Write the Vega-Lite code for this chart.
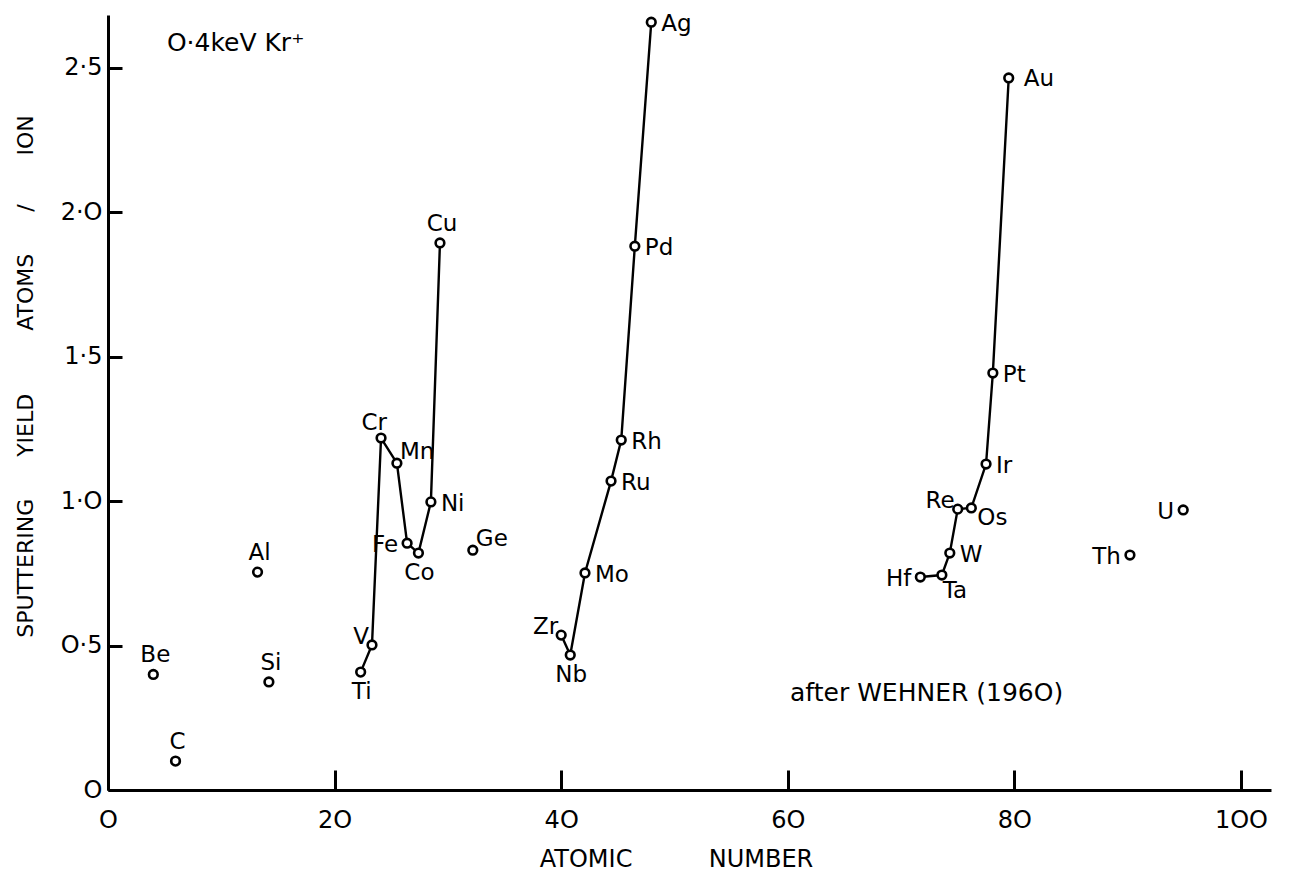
{
  "$schema": "https://vega.github.io/schema/vega-lite/v6.json",
  "autosize": "none",
  "width": 1163,
  "height": 775,
  "padding": {"left": 108, "top": 15, "right": 20, "bottom": 101},
  "background": "white",
  "config": {
    "view": {"stroke": null},
    "font": "DejaVu Sans",
    "text": {"font": "DejaVu Sans", "fontSize": 23, "color": "black"}
  },
  "data": {
    "values": [
      {"el": "Be", "z": 4.0, "y": 0.40},
      {"el": "C", "z": 5.96, "y": 0.10},
      {"el": "Al", "z": 13.2, "y": 0.754},
      {"el": "Si", "z": 14.2, "y": 0.374},
      {"el": "Ti", "z": 22.3, "y": 0.408, "row": "3d"},
      {"el": "V", "z": 23.3, "y": 0.502, "row": "3d"},
      {"el": "Cr", "z": 24.1, "y": 1.218, "row": "3d"},
      {"el": "Mn", "z": 25.5, "y": 1.131, "row": "3d"},
      {"el": "Fe", "z": 26.4, "y": 0.854, "row": "3d"},
      {"el": "Co", "z": 27.4, "y": 0.820, "row": "3d"},
      {"el": "Ni", "z": 28.5, "y": 0.997, "row": "3d"},
      {"el": "Cu", "z": 29.3, "y": 1.893, "row": "3d"},
      {"el": "Ge", "z": 32.2, "y": 0.830},
      {"el": "Zr", "z": 40.0, "y": 0.536, "row": "4d"},
      {"el": "Nb", "z": 40.8, "y": 0.467, "row": "4d"},
      {"el": "Mo", "z": 42.1, "y": 0.751, "row": "4d"},
      {"el": "Ru", "z": 44.4, "y": 1.069, "row": "4d"},
      {"el": "Rh", "z": 45.3, "y": 1.211, "row": "4d"},
      {"el": "Pd", "z": 46.5, "y": 1.882, "row": "4d"},
      {"el": "Ag", "z": 47.95, "y": 2.657, "row": "4d"},
      {"el": "Hf", "z": 71.7, "y": 0.737, "row": "5d"},
      {"el": "Ta", "z": 73.6, "y": 0.744, "row": "5d"},
      {"el": "W", "z": 74.3, "y": 0.820, "row": "5d"},
      {"el": "Re", "z": 75.0, "y": 0.972, "row": "5d"},
      {"el": "Os", "z": 76.2, "y": 0.976, "row": "5d"},
      {"el": "Ir", "z": 77.5, "y": 1.128, "row": "5d"},
      {"el": "Pt", "z": 78.1, "y": 1.443, "row": "5d"},
      {"el": "Au", "z": 79.5, "y": 2.464, "row": "5d"},
      {"el": "Th", "z": 90.2, "y": 0.813},
      {"el": "U", "z": 94.9, "y": 0.969}
    ]
  },
  "encoding": {
    "x": {
      "field": "z", "type": "quantitative",
      "scale": {"domain": [0, 102.65], "nice": false, "zero": false},
      "axis": {
        "values": [0, 20, 40, 60, 80, 100],
        "labelExpr": "datum.value == 0 ? 'O' : datum.value == 100 ? '1OO' : replace(datum.label, '0', 'O')",
        "grid": false,
        "domainColor": "black", "domainWidth": 3,
        "tickColor": "black", "tickWidth": 3, "tickSize": -20,
        "labelFont": "DejaVu Sans", "labelFontSize": 24, "labelColor": "black",
        "labelPadding": 38, "labelFlush": false, "labelOverlap": false,
        "title": "ATOMIC\u00a0\u00a0\u00a0\u00a0\u00a0\u00a0\u00a0\u00a0\u00a0\u00a0NUMBER",
        "titleFont": "DejaVu Sans", "titleFontSize": 24, "titleFontWeight": "normal", "titleColor": "black",
        "titleX": 568, "titleY": 69, "titleBaseline": "middle", "titleAlign": "center"
      }
    },
    "y": {
      "field": "y", "type": "quantitative",
      "scale": {"domain": [0, 2.682], "nice": false, "zero": false},
      "axis": {
        "values": [0, 0.5, 1, 1.5, 2, 2.5],
        "labelExpr": "datum.value == 0 ? 'O' : datum.value == 0.5 ? 'O·5' : datum.value == 1 ? '1·O' : datum.value == 1.5 ? '1·5' : datum.value == 2 ? '2·O' : '2·5'",
        "grid": false,
        "domainColor": "black", "domainWidth": 3,
        "tickColor": "black", "tickWidth": 3, "tickSize": -14,
        "labelFont": "DejaVu Sans", "labelFontSize": 24, "labelColor": "black",
        "labelPadding": 20, "labelFlush": false, "labelOverlap": false,
        "title": "SPUTTERING\u00a0\u00a0\u00a0\u00a0\u00a0\u00a0YIELD\u00a0\u00a0\u00a0\u00a0\u00a0\u00a0\u00a0\u00a0\u00a0ATOMS\u00a0\u00a0\u00a0\u00a0\u00a0\u00a0/\u00a0\u00a0\u00a0\u00a0\u00a0\u00a0\u00a0ION",
        "titleFont": "DejaVu Sans", "titleFontSize": 22, "titleFontWeight": "normal", "titleColor": "black",
        "titleX": -83, "titleY": 361, "titleBaseline": "middle", "titleAlign": "center", "titleAngle": -90
      }
    }
  },
  "layer": [
    {
      "transform": [{"filter": "isValid(datum.row)"}],
      "mark": {"type": "line", "color": "black", "strokeWidth": 2.4},
      "encoding": {
        "detail": {"field": "row"},
        "order": {"field": "z", "type": "quantitative"}
      }
    },
    {
      "mark": {"type": "point", "shape": "circle", "filled": true, "fill": "white", "stroke": "black", "strokeWidth": 2.6, "size": 75, "opacity": 1}
    },
    {
      "transform": [{"filter": {"field": "el", "oneOf": ["Ni", "Mo", "Ru", "Rh", "Pd", "Ag", "W", "Ir", "Pt"]}}],
      "mark": {"type": "text", "align": "left", "baseline": "middle", "dx": 10, "dy": 2},
      "encoding": {"text": {"field": "el"}}
    },
    {
      "transform": [{"filter": {"field": "el", "oneOf": ["Au"]}}],
      "mark": {"type": "text", "align": "left", "baseline": "middle", "dx": 15, "dy": 1},
      "encoding": {"text": {"field": "el"}}
    },
    {
      "transform": [{"filter": {"field": "el", "oneOf": ["Os"]}}],
      "mark": {"type": "text", "align": "left", "baseline": "middle", "dx": 6, "dy": 10},
      "encoding": {"text": {"field": "el"}}
    },
    {
      "transform": [{"filter": {"field": "el", "oneOf": ["Mn", "Ge"]}}],
      "mark": {"type": "text", "align": "left", "baseline": "middle", "dx": 3, "dy": -11},
      "encoding": {"text": {"field": "el"}}
    },
    {
      "transform": [{"filter": {"field": "el", "oneOf": ["Hf", "Th", "U", "Fe"]}}],
      "mark": {"type": "text", "align": "right", "baseline": "middle", "dx": -9, "dy": 2},
      "encoding": {"text": {"field": "el"}}
    },
    {
      "transform": [{"filter": {"field": "el", "oneOf": ["V", "Zr", "Re"]}}],
      "mark": {"type": "text", "align": "right", "baseline": "middle", "dx": -3, "dy": -8},
      "encoding": {"text": {"field": "el"}}
    },
    {
      "transform": [{"filter": {"field": "el", "oneOf": ["Be", "C", "Al", "Si", "Cu"]}}],
      "mark": {"type": "text", "align": "center", "baseline": "middle", "dx": 2, "dy": -19},
      "encoding": {"text": {"field": "el"}}
    },
    {
      "transform": [{"filter": {"field": "el", "oneOf": ["Cr"]}}],
      "mark": {"type": "text", "align": "right", "baseline": "middle", "dx": 6, "dy": -15},
      "encoding": {"text": {"field": "el"}}
    },
    {
      "transform": [{"filter": {"field": "el", "oneOf": ["Ti", "Nb", "Co"]}}],
      "mark": {"type": "text", "align": "center", "baseline": "middle", "dx": 1, "dy": 20},
      "encoding": {"text": {"field": "el"}}
    },
    {
      "transform": [{"filter": {"field": "el", "oneOf": ["Ta"]}}],
      "mark": {"type": "text", "align": "left", "baseline": "middle", "dx": 1, "dy": 16},
      "encoding": {"text": {"field": "el"}}
    },
    {
      "transform": [{"filter": {"field": "el", "equal": "Be"}}],
      "mark": {"type": "text", "align": "left", "baseline": "middle", "fontSize": 25},
      "encoding": {
        "x": {"datum": 5.2, "type": "quantitative"},
        "y": {"datum": 2.585, "type": "quantitative"},
        "text": {"value": "O·4keV Kr⁺"}
      }
    },
    {
      "transform": [{"filter": {"field": "el", "equal": "Be"}}],
      "mark": {"type": "text", "align": "left", "baseline": "middle", "fontSize": 25},
      "encoding": {
        "x": {"datum": 60.2, "type": "quantitative"},
        "y": {"datum": 0.335, "type": "quantitative"},
        "text": {"value": "after WEHNER (196O)"}
      }
    }
  ]
}
